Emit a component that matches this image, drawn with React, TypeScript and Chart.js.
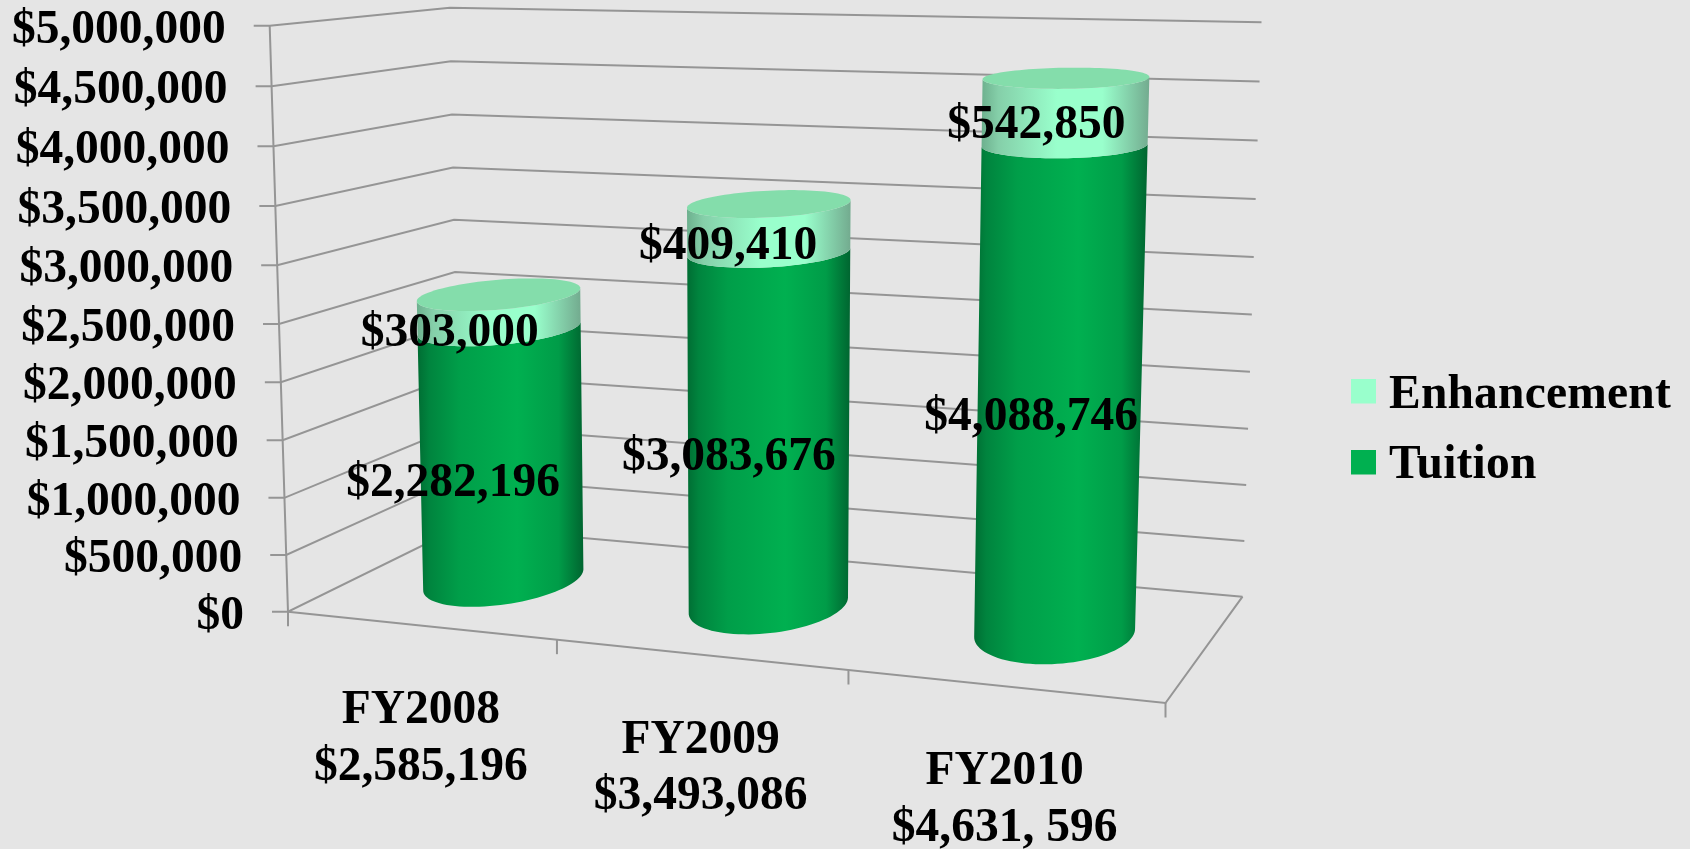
import React, { useEffect, useRef } from "react";
import { Chart, registerables } from "chart.js";

Chart.register(...registerables);

const categories = [
  ["FY2008", "$2,585,196"],
  ["FY2009", "$3,493,086"],
  ["FY2010", "$4,631, 596"],
];
const tuition = [2282196, 3083676, 4088746];
const enhancement = [303000, 409410, 542850];
const tickStep = 500000;
const axisMax = 5000000;

const FONT = '"Liberation Serif", "Times New Roman", serif';
const BG = "#e5e5e5";
const GRID = "#959595";

type P = [number, number];
const floorQuad: P[] = [[288, 611.7], [1165.5, 703], [1242.5, 596.7], [460, 527]];
const ceilQuad: P[] = [[269.7, 25.7], [1183.7, 55], [1261.5, 22.3], [450, 7.7]];
const VANISH: P = [751, 15448];

function homography(q: P[]) {
  const [[x0, y0], [x1, y1], [x2, y2], [x3, y3]] = q;
  const dx1 = x1 - x2, dx2 = x3 - x2, sx = x0 - x1 + x2 - x3;
  const dy1 = y1 - y2, dy2 = y3 - y2, sy = y0 - y1 + y2 - y3;
  const det = dx1 * dy2 - dx2 * dy1;
  const g = (sx * dy2 - dx2 * sy) / det;
  const h = (dx1 * sy - sx * dy1) / det;
  const a = x1 - x0 + g * x1, b = x3 - x0 + h * x3;
  const d = y1 - y0 + g * y1, e = y3 - y0 + h * y3;
  return (u: number, w: number): P => {
    const z = g * u + h * w + 1;
    return [(a * u + b * w + x0) / z, (d * u + e * w + y0) / z];
  };
}
const floorH = homography(floorQuad);
const ceilH = homography(ceilQuad);
const PERSP = -0.035;
function project(u: number, w: number, v: number): P {
  const t = (v * (1 + PERSP)) / (1 + PERSP * v);
  const a = floorH(u, w), b = ceilH(u, w);
  const y = a[1] + (b[1] - a[1]) * t;
  const x = a[0] + ((VANISH[0] - a[0]) * (y - a[1])) / (VANISH[1] - a[1]);
  return [x, y];
}

const DEPTH_C = 0.5;
const DEPTH_R = 0.3;

function frontArc(uc: number, ru: number, v: number): P[] {
  const pts: P[] = [];
  const n = 96;
  for (let i = 0; i < n; i++) {
    const t = (i / n) * Math.PI * 2;
    pts.push(project(uc + ru * Math.cos(t), DEPTH_C + DEPTH_R * Math.sin(t), v));
  }
  let lo = 0, hi = 0;
  pts.forEach((p, i) => {
    if (p[0] < pts[lo][0]) lo = i;
    if (p[0] > pts[hi][0]) hi = i;
  });
  const a: P[] = [], b: P[] = [];
  for (let i = lo; ; i = (i + 1) % n) { a.push(pts[i]); if (i === hi) break; }
  for (let i = lo; ; i = (i - 1 + n) % n) { b.push(pts[i]); if (i === hi) break; }
  const my = (s: P[]) => s.reduce((acc, p) => acc + p[1], 0) / s.length;
  return my(a) > my(b) ? a : b;
}

const tuitionStops: [number, string][] = [
  [0, "#006d33"], [0.07, "#00843e"], [0.25, "#009e49"], [0.6, "#00b050"], [0.85, "#009c48"], [1, "#006530"],
];
const enhStops: [number, string][] = [
  [0, "#6db08e"], [0.1, "#85cfa9"], [0.45, "#99ffcc"], [0.72, "#99ffcc"], [1, "#73ab8f"],
];

const cylinderPlugin = {
  id: "cylinder3d",
  beforeDatasetsDraw(chart: any) {
    const { ctx, scales } = chart;
    const y = scales.y;
    const h = y.getPixelForValue(0) - y.getPixelForValue(axisMax);
    const frac = (val: number) => (y.getPixelForValue(0) - y.getPixelForValue(val)) / h;
    ctx.save();
    ctx.fillStyle = BG;
    ctx.fillRect(0, 0, chart.width, chart.height);
    ctx.strokeStyle = GRID;
    ctx.lineWidth = 2;
    ctx.lineJoin = "miter";
    const line = (pts: P[]) => {
      ctx.beginPath();
      pts.forEach((p, i) => (i ? ctx.lineTo(p[0], p[1]) : ctx.moveTo(p[0], p[1])));
      ctx.stroke();
    };
    ctx.textAlign = "right";
    ctx.textBaseline = "alphabetic";
    ctx.font = `bold 47.5px ${FONT}`;
    y.ticks.forEach((t: any) => {
      const v = frac(t.value);
      const a = project(0, 0, v), b = project(0, 1, v), c = project(1, 1, v);
      line([[a[0] - 16, a[1]], a, b, c]);
      ctx.fillStyle = "#000";
      ctx.fillText(t.label, a[0] - 44, a[1] + 17);
    });
    line([project(0, 0, 0), project(0, 0, 1)]);
    line([project(0, 0, 0), project(1, 0, 0), project(1, 1, 0)]);
    const n = categories.length;
    for (let i = 0; i <= n; i++) {
      const p = project(i / n, 0, 0);
      line([p, [p[0], p[1] + 14.5]]);
    }
    const x = scales.x;
    const area = chart.chartArea;
    ctx.textAlign = "center";
    ctx.fillStyle = "#000";
    categories.forEach((lines, i) => {
      const u = (x.getPixelForValue(i) - area.left) / (area.right - area.left);
      const p = project(u, 0, 0);
      lines.forEach((s, j) => ctx.fillText(s, p[0] + 1, p[1] + 98 + j * 56.5));
    });
    ctx.restore();
  },
  beforeDatasetDraw() {
    return false;
  },
  afterDatasetsDraw(chart: any) {
    const { ctx, scales, chartArea: area } = chart;
    const y = scales.y;
    const h = y.getPixelForValue(0) - y.getPixelForValue(axisMax);
    const W = area.right - area.left;
    const frac = (px: number) => (y.getPixelForValue(0) - px) / h;
    ctx.save();
    const stops = [tuitionStops, enhStops];
    chart.data.datasets.forEach((ds: any, di: number) => {
      const meta = chart.getDatasetMeta(di);
      meta.data.forEach((el: any) => {
        const uc = (el.x - area.left) / W;
        const ru = el.width / 2 / W;
        const v0 = frac(el.base), v1 = frac(el.y);
        const low = frontArc(uc, ru, v0);
        const top = frontArc(uc, ru, v1);
        const xs = [...low, ...top].map((p) => p[0]);
        const g = ctx.createLinearGradient(Math.min(...xs), 0, Math.max(...xs), 0);
        stops[di].forEach(([o, c]) => g.addColorStop(o, c));
        ctx.fillStyle = g;
        ctx.beginPath();
        low.forEach((p, i) => (i ? ctx.lineTo(p[0], p[1]) : ctx.moveTo(p[0], p[1])));
        [...top].reverse().forEach((p) => ctx.lineTo(p[0], p[1]));
        ctx.closePath();
        ctx.fill();
        if (di === chart.data.datasets.length - 1) {
          ctx.fillStyle = "#84ddab";
          ctx.beginPath();
          for (let i = 0; i < 96; i++) {
            const t = (i / 96) * Math.PI * 2;
            const p = project(uc + ru * Math.cos(t), DEPTH_C + DEPTH_R * Math.sin(t), v1);
            i ? ctx.lineTo(p[0], p[1]) : ctx.moveTo(p[0], p[1]);
          }
          ctx.closePath();
          ctx.fill();
        }
      });
    });
    ctx.fillStyle = "#000";
    ctx.textAlign = "center";
    ctx.textBaseline = "alphabetic";
    ctx.font = `bold 47.5px ${FONT}`;
    chart.data.datasets.forEach((ds: any, di: number) => {
      chart.getDatasetMeta(di).data.forEach((el: any, i: number) => {
        const uc = (el.x - area.left) / W;
        const p = project(uc, 0, (frac(el.base) + frac(el.y)) / 2);
        const dx = 39.5 - 19.5 * uc;
        const dy = di === 0 ? 3.6 - 5.5 * uc : 5.5;
        ctx.fillText("$" + ds.data[i].toLocaleString("en-US"), p[0] + dx, p[1] + dy);
      });
    });
    (ctx as any).letterSpacing = "0.2px";
    [...chart.data.datasets].reverse().forEach((ds: any, i: number) => {
      const top = 379 + i * 71;
      ctx.fillStyle = ds.backgroundColor;
      ctx.fillRect(1351, top, 25, 24.5);
      ctx.fillStyle = "#000";
      ctx.textAlign = "left";
      ctx.fillText(ds.label, 1389, top + 29 - i);
    });
    ctx.restore();
  },
};

export default function App() {
  const ref = useRef<HTMLCanvasElement>(null);
  useEffect(() => {
    const chart = new Chart(ref.current!, {
      type: "bar",
      data: {
        labels: categories,
        datasets: [
          { label: "Tuition", data: tuition, backgroundColor: "#00b050" },
          { label: "Enhancement", data: enhancement, backgroundColor: "#99ffcc" },
        ],
      },
      options: {
        animation: false,
        responsive: false,
        layout: { padding: { left: 288, right: 1690 - 1165.5, top: 26, bottom: 849 - 612 } },
        datasets: { bar: { categoryPercentage: 1, barPercentage: 0.505 } },
        plugins: { legend: { display: false }, tooltip: { enabled: false } },
        scales: {
          x: { stacked: true, display: false },
          y: {
            stacked: true,
            display: false,
            min: 0,
            max: axisMax,
            ticks: {
              stepSize: tickStep,
              callback: (v: any) => "$" + Number(v).toLocaleString("en-US"),
            },
          },
        },
      },
      plugins: [cylinderPlugin],
    } as any);
    return () => chart.destroy();
  }, []);
  return (
    <div style={{ position: "fixed", inset: 0, background: BG }}>
      <canvas ref={ref} width={1690} height={849} style={{ display: "block" }} />
    </div>
  );
}
